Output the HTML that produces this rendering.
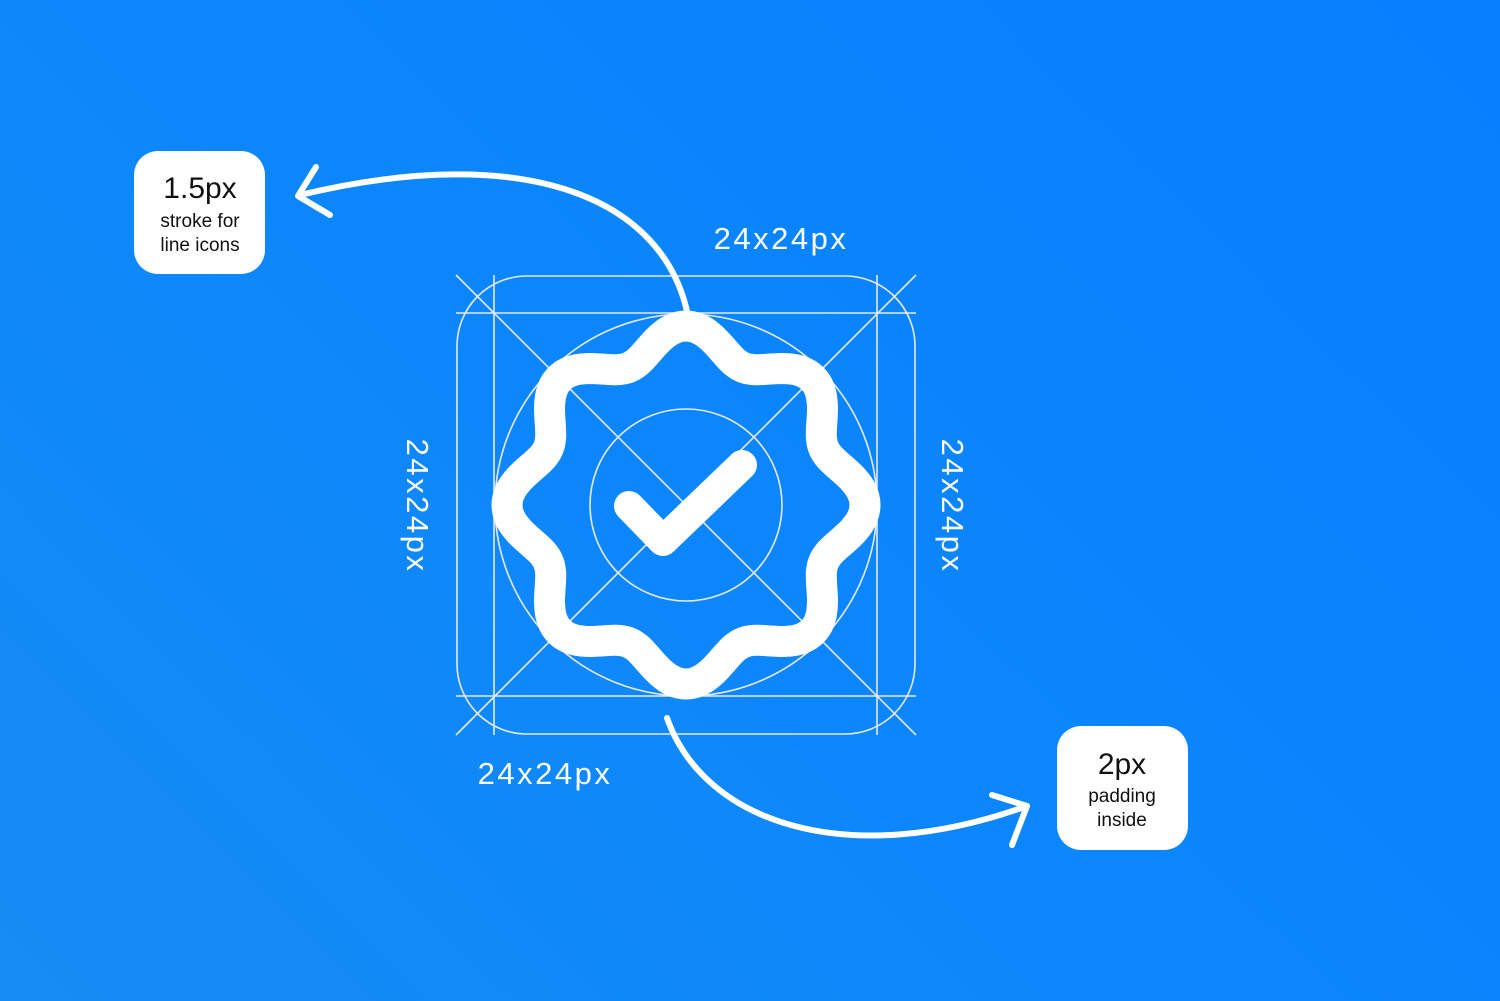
<!DOCTYPE html>
<html><head><meta charset="utf-8"><style>
html,body{margin:0;padding:0}
body{width:1500px;height:1001px;overflow:hidden;background:linear-gradient(225deg,#0780ff 0%,#0b86fc 50%,#168cf4 100%);font-family:"Liberation Sans",sans-serif}
svg{position:absolute;left:0;top:0}
</style></head><body>
<svg width="1500" height="1001" viewBox="0 0 1500 1001">
<g stroke="#e6e9f0" stroke-width="1.6" fill="none">
<rect x="457" y="276" width="458" height="458" rx="70"/>
<line x1="456" y1="313" x2="916" y2="313"/>
<line x1="456" y1="696" x2="916" y2="696"/>
<line x1="494" y1="275" x2="494" y2="735"/>
<line x1="877" y1="275" x2="877" y2="735"/>
<line x1="456" y1="275" x2="916" y2="735"/>
<line x1="916" y1="275" x2="456" y2="735"/>
<circle cx="686" cy="505" r="191"/>
<circle cx="686" cy="505" r="96"/>
</g>
<path id="badge" d="" fill="none" stroke="#fff" stroke-width="31" stroke-linejoin="round"/>
<polyline points="629,506 663,541 742,465" fill="none" stroke="#fff" stroke-width="30" stroke-linecap="round" stroke-linejoin="round"/>
<g stroke="#fff" stroke-width="6" fill="none" stroke-linecap="round" stroke-linejoin="round">
<path d="M688,316 C665,200 530,140 300,195"/>
<polyline points="316,167 298,196 330,215"/>
<path d="M667,718 C705,825 850,870 1027,806"/>
<polyline points="992,795 1027,806 1012,845"/>
</g>
<rect x="134" y="151" width="131" height="123" rx="24" fill="#fff"/>
<rect x="1057" y="726" width="131" height="124" rx="24" fill="#fff"/>
<g fill="#111" text-anchor="middle">
<text x="200" y="198" font-size="30">1.5px</text>
<text x="200" y="227" font-size="19">stroke for</text>
<text x="200" y="251" font-size="19">line icons</text>
<text x="1122" y="774" font-size="30">2px</text>
<text x="1122" y="802" font-size="19">padding</text>
<text x="1122" y="826" font-size="19">inside</text>
</g>
<g fill="#fff" font-size="31" text-anchor="middle" letter-spacing="2.5">
<text x="781" y="249">24x24px</text>
<text x="545" y="784">24x24px</text>
<text transform="translate(407,506) rotate(90)">24x24px</text>
<text transform="translate(942,506) rotate(90)">24x24px</text>
</g>
</svg>
<script>
var d="",cx=686,cy=505;
for(var i=0;i<=360;i++){var t=i*Math.PI/180;var r=164+15*Math.cos(8*t);
var x=cx+r*Math.sin(t),y=cy-r*Math.cos(t);d+=(i?"L":"M")+x.toFixed(1)+","+y.toFixed(1);}
document.getElementById("badge").setAttribute("d",d+"Z");
</script>
</body></html>
